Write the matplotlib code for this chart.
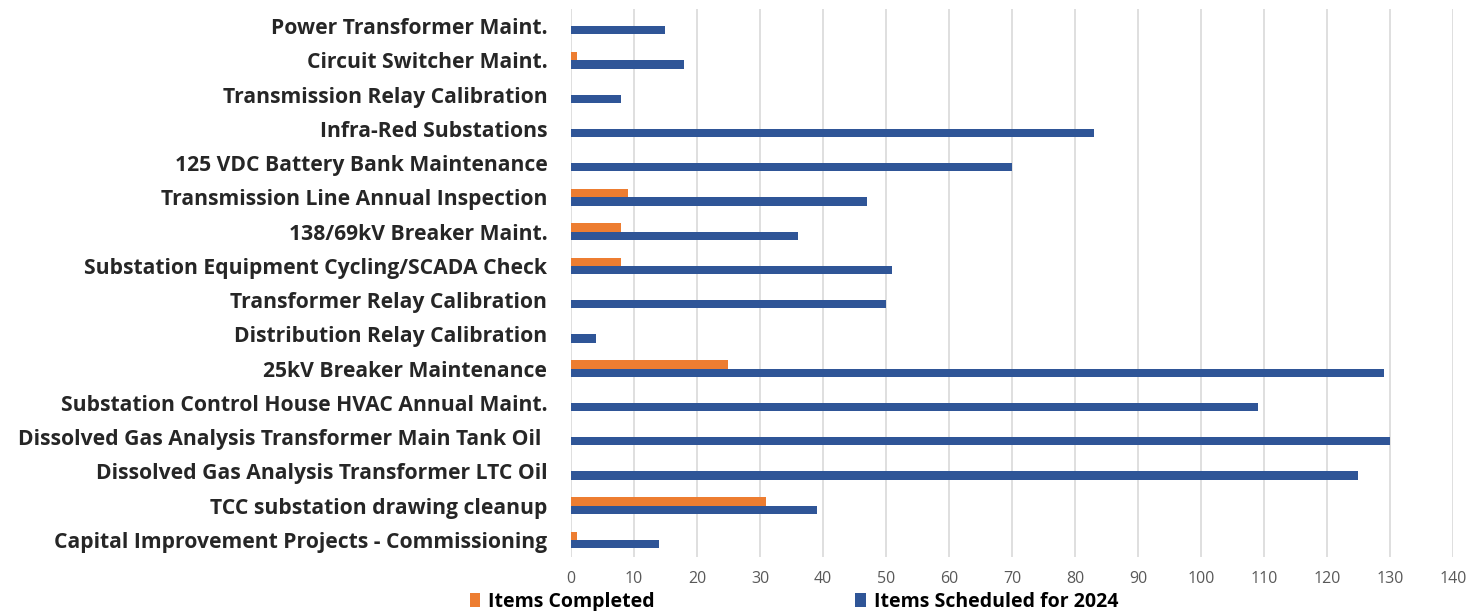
import numpy as np
import matplotlib.pyplot as plt

plt.rcParams['font.family'] = ['Open Sans', 'DejaVu Sans']

# categories, top to bottom as shown
categories = [
    'Power Transformer Maint.',
    'Circuit Switcher Maint.',
    'Transmission Relay Calibration',
    'Infra-Red Substations',
    '125 VDC Battery Bank Maintenance',
    'Transmission Line Annual Inspection',
    '138/69kV Breaker Maint.',
    'Substation Equipment Cycling/SCADA Check',
    'Transformer Relay Calibration',
    'Distribution Relay Calibration',
    '25kV Breaker Maintenance',
    'Substation Control House HVAC Annual Maint.',
    'Dissolved Gas Analysis Transformer Main Tank Oil ',
    'Dissolved Gas Analysis Transformer LTC Oil',
    'TCC substation drawing cleanup',
    'Capital Improvement Projects - Commissioning',
]
completed = [0, 1, 0, 0, 0, 9, 8, 8, 0, 0, 25, 0, 0, 0, 31, 1]
scheduled = [15, 18, 8, 83, 70, 47, 36, 51, 50, 4, 129, 109, 130, 125, 39, 14]
xticks = list(range(0, 141, 10))

c_orange = '#ED7D31'
c_blue = '#2F5597'

fig = plt.figure(figsize=(14.73, 6.11), dpi=100)
ax = fig.add_axes([0.3876, 0.0884, 0.5988, 0.897])

y = np.arange(len(categories))
h = 0.24
ax.barh(y - h / 2, completed, height=h, color=c_orange, label='Items Completed', zorder=3)
ax.barh(y + h / 2, scheduled, height=h, color=c_blue, label='Items Scheduled for 2024', zorder=3)

ax.set_ylim(len(categories) - 0.5, -0.5)
ax.set_xlim(0, 140)
ax.set_xticks(xticks)
ax.set_yticks(y)
ax.set_yticklabels(categories, fontsize=15.2, fontweight='bold', color='#262626')
ax.tick_params(axis='y', length=0, pad=17)
ax.tick_params(axis='x', length=0, pad=10, labelsize=11.5, labelcolor='#595959')

ax.grid(axis='x', color='#d9d9d9', linewidth=1.2, zorder=0)
for s in ax.spines.values():
    s.set_visible(False)

fig.legend(loc='lower left', bbox_to_anchor=(0.307, -0.03), ncol=2,
           frameon=False, handlelength=0.55, handleheight=0.7, handletextpad=0.4,
           columnspacing=10.3, prop={'size': 14, 'weight': 'bold'})

fig.savefig('out.png', dpi=100)
